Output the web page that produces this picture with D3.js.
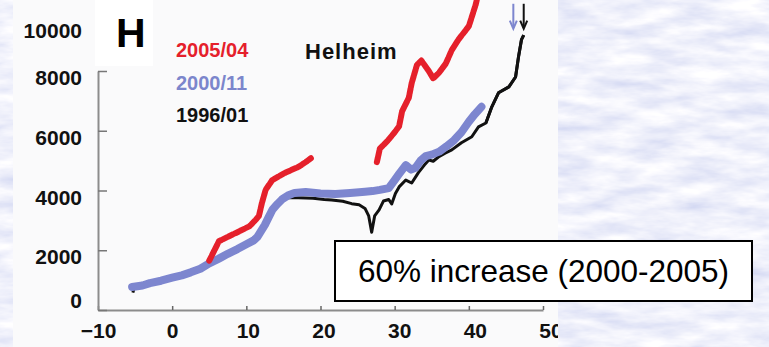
<!DOCTYPE html>
<html>
<head>
<meta charset="utf-8">
<script src="https://cdn.jsdelivr.net/npm/d3@7"></script>
<style>
  html, body { margin: 0; padding: 0; background: #d5daf3; }
  svg { display: block; }
</style>
</head>
<body>
<div id="chart"></div>
<script>
// Helheim surface profiles: distance (km) vs. value
const red2005 = [
  [[5.0, 1650], [6.3, 2300], [7.5, 2450], [8.6, 2580], [10.4, 2800], [11.2, 3000], [11.7, 3150],
   [12.1, 3580], [12.6, 4020], [13.5, 4350], [14.4, 4480], [15.3, 4600], [16.2, 4700], [17.1, 4800], [18.0, 4950], [18.7, 5080]],
  [[27.6, 4950], [28.0, 5400], [29.0, 5650], [30.0, 5950], [30.6, 6150], [31.0, 6650], [31.9, 7100],
   [32.3, 7600], [33.0, 8200], [33.6, 8350], [34.6, 8000], [35.2, 7750], [36.0, 7950], [36.9, 8250],
   [37.7, 8700], [38.6, 9050], [40.0, 9500], [40.9, 10200], [41.4, 10700]]
];
const blue2000 = [
  [-5.4, 770], [-4.0, 820], [-3.0, 900], [-1.5, 980], [0, 1080], [1.3, 1160], [2.5, 1260], [3.8, 1380],
  [5.0, 1560], [6.3, 1720], [7.5, 1880], [8.8, 2040], [10.0, 2200], [11.0, 2330], [11.5, 2450],
  [12.0, 2650], [12.5, 2850], [13.0, 3100], [13.5, 3350], [14.2, 3550], [14.8, 3700], [15.6, 3830],
  [16.5, 3920], [18.0, 3950], [20.0, 3900], [22.0, 3880], [24.0, 3920], [26.0, 3960], [27.0, 3980],
  [28.0, 4020], [29.2, 4080], [30.0, 4350], [30.5, 4520], [31.5, 4850], [32.2, 4700], [32.8, 4760],
  [33.5, 5000], [34.2, 5150], [35.0, 5200], [36.0, 5300], [37.0, 5480], [38.0, 5680], [39.0, 5950],
  [40.0, 6300], [40.8, 6550], [41.7, 6800]
];
const black1996 = [
  [-5.3, 580], [-5.1, 760], [-4.0, 830], [-3.0, 900], [-1.5, 990], [0, 1100], [1.0, 1180], [2.0, 1260],
  [3.0, 1380], [4.0, 1340], [5.0, 1560], [7.5, 1900], [10.0, 2250], [11.5, 2500], [12.3, 2800],
  [13.5, 3300], [14.5, 3600], [15.5, 3760], [17.0, 3760], [19.0, 3740], [20.5, 3700], [21.5, 3680],
  [23.0, 3640], [24.2, 3560], [25.2, 3520], [26.0, 3400], [26.5, 3150], [26.9, 2600], [27.3, 3150],
  [27.9, 3350], [28.5, 3650], [29.2, 3700], [29.6, 3550], [30.1, 3900], [30.6, 4120], [31.5, 4350],
  [32.3, 4250], [33.2, 4600], [34.0, 4850], [34.6, 5020], [35.2, 4980], [35.9, 5120], [36.8, 5250],
  [37.7, 5360], [39.0, 5600], [40.4, 5800], [41.3, 6130], [42.3, 6260], [43.1, 6800], [44.0, 7270],
  [45.4, 7470], [46.3, 7800], [46.7, 8480], [47.1, 9050], [47.4, 9200]
];
const arrows = [
  { x: 46.0, color: "#7d86cf" },
  { x: 47.4, color: "#111" }
];
const arrowRange = [10250, 9450];

const xTicks = [-10, 0, 10, 20, 30, 40, 50];
const yTicks = [0, 2000, 4000, 6000, 8000];
const yLabels = [0, 2000, 4000, 6000, 8000, 10000];
const legendItems = [
  { label: "2005/04", color: "#e5202b" },
  { label: "2000/11", color: "#7c86cc" },
  { label: "1996/01", color: "#111" }
];
const glacierName = "Helheim";
const panelLetter = "H";
const note = "60% increase (2000-2005)";

const W = 769, H = 347;
const svg = d3.select("#chart").append("svg")
  .attr("width", W).attr("height", H)
  .style("font-family", "'Liberation Sans', Arial, Helvetica, sans-serif");

// water texture used for the slide background
const defs = svg.append("defs");
const filt = defs.append("filter").attr("id", "water")
  .attr("x", 0).attr("y", 0).attr("width", "100%").attr("height", "100%");
filt.append("feTurbulence")
  .attr("type", "fractalNoise")
  .attr("baseFrequency", "0.022 0.075")
  .attr("numOctaves", 4)
  .attr("seed", 7);
filt.append("feColorMatrix").attr("type", "matrix")
  .attr("values", "0.50 0 0 0 0.62  0.44 0 0 0 0.66  0.17 0 0 0 0.88  0 0 0 0 1");

svg.append("rect").attr("width", W).attr("height", H).attr("filter", "url(#water)");

// white figure panel
const panelX0 = 13, panelX1 = 558;
svg.append("rect")
  .attr("x", panelX0).attr("y", 0)
  .attr("width", panelX1 - panelX0).attr("height", H)
  .attr("fill", "#fafafb");
svg.append("rect")
  .attr("x", 95).attr("y", 0).attr("width", 58).attr("height", 66)
  .attr("fill", "#fff");

const x = d3.scaleLinear().domain([-10, 50]).range([98, 543]);
const y = d3.scaleLinear().domain([0, 8000]).range([310, 71]);

const axisColor = "#8c8c8c";

// x axis; the pasted labels drift a little right of their ticks
const gx = svg.append("g").attr("transform", `translate(0,${y(0)})`)
  .call(d3.axisBottom(x).tickValues(xTicks).tickSize(-4).tickSizeOuter(0)
    .tickFormat(d => d < 0 ? "\u2212" + Math.abs(d) : d));
gx.select(".domain").attr("stroke", axisColor).attr("stroke-width", 2);
gx.selectAll(".tick line").attr("stroke", "#666").attr("stroke-width", 1.5);
gx.selectAll(".tick text")
  .attr("fill", "#111").attr("font-size", 21).attr("font-weight", "bold")
  .attr("font-family", "'Liberation Sans', Arial, sans-serif")
  .attr("y", 0).attr("dy", 0)
  .attr("transform", d => `translate(${d > 0 ? d * 0.15 : 0},28)`);

// y axis (line + ticks only; labels placed separately)
const gy = svg.append("g").attr("transform", `translate(${x(-10)},0)`)
  .call(d3.axisLeft(y).tickValues(yTicks).tickSize(-9).tickSizeOuter(0).tickFormat(""));
gy.select(".domain").attr("stroke", axisColor).attr("stroke-width", 2);
gy.selectAll(".tick line").attr("stroke", "#777").attr("stroke-width", 1.5);

// the pasted-in labels sit just below their ticks, with the ends squeezed in
const labelShift = v => v === 0 ? -2 : (v === 10000 ? 27 : 14);
svg.append("g").selectAll("text").data(yLabels).join("text")
  .attr("x", 82)
  .attr("y", d => y(d) + labelShift(d))
  .attr("text-anchor", "end")
  .attr("font-size", 21).attr("font-weight", "bold").attr("fill", "#111")
  .text(d => d);

// curves
const line = d3.line().x(d => x(d[0])).y(d => y(d[1]));
const plot = svg.append("g");

plot.append("path").datum(black1996)
  .attr("d", line).attr("fill", "none")
  .attr("stroke", "#111").attr("stroke-width", 3).attr("stroke-linejoin", "round");

plot.append("path").datum(blue2000)
  .attr("d", line).attr("fill", "none")
  .attr("stroke", "#7d86cf").attr("stroke-width", 8)
  .attr("stroke-linejoin", "round").attr("stroke-linecap", "round");

plot.selectAll(".red").data(red2005).join("path")
  .attr("class", "red")
  .attr("d", line).attr("fill", "none")
  .attr("stroke", "#e5202b").attr("stroke-width", 6)
  .attr("stroke-dasharray", "5 1.5")
  .attr("stroke-linejoin", "round").attr("stroke-linecap", "round");

// black curve on top where it runs past the blue one
plot.append("path").datum(black1996.filter(d => d[0] > 41.5))
  .attr("d", line).attr("fill", "none")
  .attr("stroke", "#111").attr("stroke-width", 3).attr("stroke-linejoin", "round");

// arrows marking the front positions
const ag = svg.append("g");
arrows.forEach(a => {
  const ax = x(a.x), yTop = y(arrowRange[0]), yBot = y(arrowRange[1]);
  ag.append("line").attr("x1", ax).attr("x2", ax).attr("y1", yTop).attr("y2", yBot)
    .attr("stroke", a.color).attr("stroke-width", 2);
  ag.append("path")
    .attr("d", `M${ax - 3.5},${yBot - 7}L${ax},${yBot + 1}L${ax + 3.5},${yBot - 7}`)
    .attr("fill", "none").attr("stroke", a.color).attr("stroke-width", 2);
});

// legend
svg.append("g").selectAll("text").data(legendItems).join("text")
  .attr("x", 176)
  .attr("y", (d, i) => 57 + i * 32.5)
  .attr("font-size", 20).attr("font-weight", "bold")
  .attr("fill", d => d.color)
  .text(d => d.label);

svg.append("text")
  .attr("x", 305).attr("y", 59)
  .attr("font-size", 22).attr("font-weight", "bold")
  .attr("letter-spacing", 1).attr("fill", "#111")
  .text(glacierName);

svg.append("text")
  .attr("x", 116).attr("y", 47)
  .attr("font-size", 41).attr("font-weight", "bold").attr("fill", "#000")
  .text(panelLetter);

// right-hand slide texture covers the end of the axis
svg.append("rect")
  .attr("x", panelX1).attr("y", 0).attr("width", W - panelX1).attr("height", H)
  .attr("filter", "url(#water)");

// callout box
const box = { x0: 335, x1: 752, y0: 241, y1: 301 };
svg.append("rect")
  .attr("x", box.x0).attr("y", box.y0)
  .attr("width", box.x1 - box.x0).attr("height", box.y1 - box.y0)
  .attr("fill", "#fff").attr("stroke", "#000").attr("stroke-width", 2);
svg.append("text")
  .attr("x", (box.x0 + box.x1) / 2).attr("y", 282)
  .attr("text-anchor", "middle")
  .attr("font-size", 31.5).attr("fill", "#000")
  .text(note);
</script>
</body>
</html>
